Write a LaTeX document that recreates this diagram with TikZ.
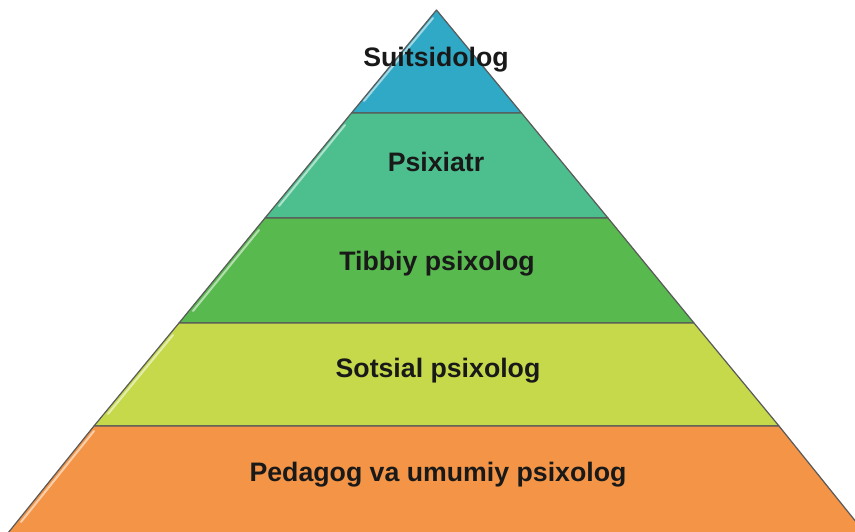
\documentclass[tikz,border=0pt]{standalone}
\usepackage{fontspec}
\setmainfont{Liberation Sans}
\begin{document}
\begin{tikzpicture}[x=1pt,y=-1pt,
  layer/.style={draw=black!65,line width=1.2pt,line join=round},
  lbl/.style={font=\fontsize{26.7}{30}\selectfont\bfseries,text=black!90},
  gloss/.style={white,opacity=0.55,line width=2pt,line cap=round}]
\useasboundingbox (0,0) rectangle (855,531);
\definecolor{cA}{HTML}{2FA9C5}
\definecolor{cB}{HTML}{4DBF8E}
\definecolor{cC}{HTML}{58B94E}
\definecolor{cD}{HTML}{C6D94B}
\definecolor{cE}{HTML}{F39446}
\clip (0,0) rectangle (855,531);
\coordinate (apex) at (436.5,10);
\filldraw[layer,fill=cA] (apex) -- (351.5,113) -- (521.5,113) -- cycle;
\filldraw[layer,fill=cB] (351.5,113) -- (265,218) -- (608,218) -- (521.5,113) -- cycle;
\filldraw[layer,fill=cC] (265,218) -- (179,323) -- (694,323) -- (608,218) -- cycle;
\filldraw[layer,fill=cD] (179,323) -- (94,426) -- (779,426) -- (694,323) -- cycle;
\filldraw[layer,fill=cE] (94,426) -- (8,533) -- (865,533) -- (779,426) -- cycle;
% gloss highlights
\draw[gloss] (433,18) -- (364,101);
\draw[gloss] (345,125) -- (279,206);
\draw[gloss] (259,230) -- (193,311);
\draw[gloss] (173,335) -- (108,414);
\draw[gloss] (94,431) -- (21,522);
\node[lbl] (t1) at (436,60) {Suitsidolog};
\node[lbl] (t2) at (436,162) {Psixiatr};
\node[lbl] (t3) at (437,264) {Tibbiy psixolog};
\node[lbl] (t4) at (438,371) {Sotsial psixolog};
\node[lbl] (t5) at (438,475) {Pedagog va umumiy psixolog};
\end{tikzpicture}
\end{document}
